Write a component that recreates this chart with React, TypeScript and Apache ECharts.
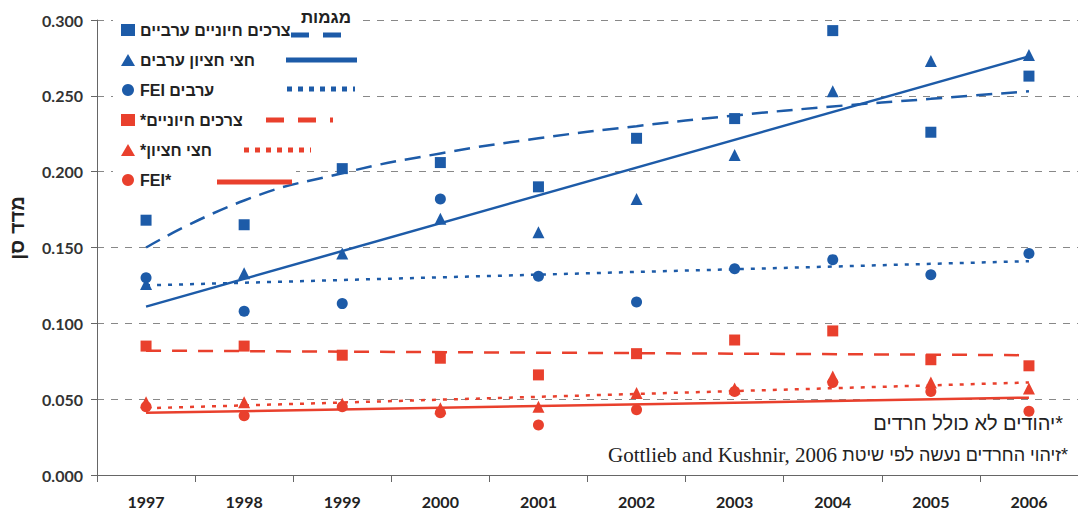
import React, { useEffect, useRef } from "react";
import * as echarts from "echarts";

const years = ["1997", "1998", "1999", "2000", "2001", "2002", "2003", "2004", "2005", "2006"];
const yTicks = [0, 0.05, 0.1, 0.15, 0.2, 0.25, 0.3];

const seriesNames = [
  "צרכים חיוניים ערביים",
  "חצי חציון ערבים",
  "FEI ערבים",
  "*צרכים חיוניים",
  "*חצי חציון",
  "FEI*",
];

// observed values
const arabNeeds = [0.168, 0.165, 0.202, 0.206, 0.19, 0.222, 0.235, 0.293, 0.226, 0.263];
const arabHalfMedian = [0.126, 0.133, 0.146, 0.169, 0.16, 0.182, 0.211, 0.253, 0.273, 0.277];
const arabFEI = [0.13, 0.108, 0.113, 0.182, 0.131, 0.114, 0.136, 0.142, 0.132, 0.146];
const jewNeeds = [0.085, 0.085, 0.079, 0.077, 0.066, 0.08, 0.089, 0.095, 0.076, 0.072];
const jewHalfMedian = [0.048, 0.048, 0.047, 0.044, 0.045, 0.054, 0.057, 0.065, 0.061, 0.057];
const jewFEI = [0.045, 0.039, 0.045, 0.041, 0.033, 0.043, 0.055, 0.061, 0.055, 0.042];

// trend lines
const trendArabNeeds = [0.15, 0.181, 0.199, 0.212, 0.222, 0.23, 0.237, 0.243, 0.248, 0.253];
const trendArabHalfMedian = [0.111, "-", "-", "-", "-", "-", "-", "-", "-", 0.276];
const trendArabFEI = [0.125, "-", "-", "-", "-", "-", "-", "-", "-", 0.141];
const trendJewNeeds = [0.082, "-", "-", "-", "-", "-", "-", "-", "-", 0.079];
const trendJewHalfMedian = [0.044, "-", "-", "-", "-", "-", "-", "-", "-", 0.061];
const trendJewFEI = [0.041, "-", "-", "-", "-", "-", "-", "-", "-", 0.051];

const noteJews = "יהודים לא כולל חרדים*";
const noteMethodHe = "זיהוי החרדים נעשה לפי שיטת*";
const noteMethodEn = "Gottlieb and Kushnir, 2006";
const trendsTitle = "מגמות";
const yTitle = "מדד סן";

const BLUE = "#1d5ba8";
const RED = "#e9402d";
const HEB = "'Liberation Sans', 'DejaVu Sans'";

export default function App() {
  const ref = useRef<HTMLDivElement>(null);

  useEffect(() => {
    if (!ref.current) return;
    const chart = echarts.init(ref.current, undefined, { renderer: "svg" });

    const scatter = (name: string, data: number[], symbol: string, size: number, color: string) => ({
      name,
      type: "scatter",
      data,
      symbol,
      symbolSize: size,
      itemStyle: { color, opacity: 1 },
      z: 4,
    });
    const trend = (data: any[], color: string, width: number, dash: any, smooth = false) => ({
      type: "line",
      data,
      connectNulls: true,
      smooth,
      showSymbol: false,
      symbol: "none",
      lineStyle: { color, width, type: dash },
      z: 3,
      silent: true,
    });

    const legendLine = (x1: number, x2: number, y: number, color: string, dash: any) => ({
      type: "line",
      shape: { x1, y1: y, x2, y2: y },
      style: { stroke: color, lineWidth: 5, lineDash: dash },
      z: 5,
    });

    chart.setOption({
      animation: false,
      grid: { left: 97, right: 0, top: 20, bottom: 37 },
      xAxis: {
        type: "category",
        data: years,
        boundaryGap: true,
        axisLine: { lineStyle: { color: "#666", width: 1 } },
        axisTick: { show: true, length: 7, lineStyle: { color: "#666" } },
        axisLabel: {
          margin: 18,
          color: "#222",
          fontSize: 16,
          fontWeight: "bold",
          fontFamily: "Lato",
        },
        splitLine: { show: false },
      },
      yAxis: {
        type: "value",
        min: yTicks[0],
        max: yTicks[yTicks.length - 1],
        interval: 0.05,
        axisLine: { show: true, lineStyle: { color: "#666", width: 1 } },
        axisTick: { show: true, length: 6, lineStyle: { color: "#666" } },
        axisLabel: {
          margin: 14,
          color: "#333",
          fontSize: 16,
          fontWeight: "bold",
          fontFamily: "Lato",
          formatter: (v: number) => v.toFixed(3),
        },
        splitLine: { show: true, lineStyle: { color: "#888", width: 1, type: [7, 7] } },
      },
      legend: {
        data: seriesNames,
        orient: "vertical",
        left: 116,
        top: 15,
        itemWidth: 14,
        itemHeight: 12,
        itemGap: 10,
        selectedMode: false,
        textStyle: {
          fontSize: 16,
          lineHeight: 20,
          fontWeight: "bold",
          color: "#222",
          fontFamily: HEB,
        },
        z: 6,
      },
      series: [
        trend(trendArabNeeds, BLUE, 2.5, [16, 9], true),
        trend(trendArabHalfMedian, BLUE, 2.5, "solid"),
        trend(trendArabFEI, BLUE, 2.5, [4, 7]),
        trend(trendJewNeeds, RED, 2.5, [15, 11]),
        trend(trendJewHalfMedian, RED, 2.5, [4, 7]),
        trend(trendJewFEI, RED, 2.5, "solid"),
        scatter(seriesNames[0], arabNeeds, "rect", 11, BLUE),
        scatter(seriesNames[1], arabHalfMedian, "triangle", 12, BLUE),
        scatter(seriesNames[2], arabFEI, "circle", 11, BLUE),
        scatter(seriesNames[3], jewNeeds, "rect", 11, RED),
        scatter(seriesNames[4], jewHalfMedian, "triangle", 12, RED),
        scatter(seriesNames[5], jewFEI, "circle", 11, RED),
      ],
      graphic: [
        { type: "rect", shape: { x: 113, y: 8, width: 244, height: 158 }, style: { fill: "#fff" }, z: 1 },
        { type: "rect", shape: { x: 113, y: 166, width: 183, height: 30 }, style: { fill: "#fff" }, z: 1 },
        {
          type: "text",
          x: 326,
          y: 17,
          style: {
            text: trendsTitle,
            fill: "#222",
            font: `bold 17px ${HEB}`,
            textAlign: "center",
            textVerticalAlign: "middle",
          },
          z: 6,
        },
        legendLine(291, 355, 35, BLUE, [18, 14]),
        legendLine(286, 357, 60, BLUE, null),
        legendLine(287, 355, 89, BLUE, [5, 6]),
        legendLine(266, 333, 120, RED, [18, 14]),
        legendLine(244, 311, 150, RED, [5, 6]),
        legendLine(217, 292, 182, RED, null),
        {
          type: "text",
          x: 17,
          y: 228,
          rotation: Math.PI / 2,
          style: {
            text: yTitle,
            fill: "#222",
            font: `bold 20px ${HEB}`,
            textAlign: "center",
            textVerticalAlign: "middle",
          },
          z: 6,
        },
        {
          type: "text",
          x: 1063,
          y: 423,
          style: {
            text: noteJews,
            fill: "#222",
            font: `20px ${HEB}`,
            textAlign: "right",
            textVerticalAlign: "middle",
          },
          z: 6,
        },
        {
          type: "text",
          x: 1068,
          y: 455,
          style: {
            text: noteMethodHe,
            fill: "#222",
            font: `18px ${HEB}`,
            textAlign: "right",
            textVerticalAlign: "middle",
          },
          z: 6,
        },
        {
          type: "text",
          x: 837,
          y: 455,
          style: {
            text: noteMethodEn,
            fill: "#222",
            font: "21px 'Liberation Serif', 'DejaVu Serif'",
            textAlign: "right",
            textVerticalAlign: "middle",
          },
          z: 6,
        },
      ],
    });

    return () => chart.dispose();
  }, []);

  return (
    <div
      ref={ref}
      style={{ position: "absolute", left: 0, top: 0, width: 1078, height: 512, background: "#fff" }}
    />
  );
}
